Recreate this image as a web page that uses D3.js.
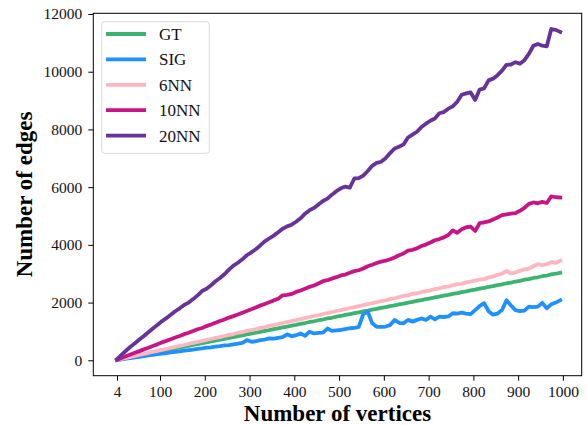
<!DOCTYPE html>
<html>
<head>
<meta charset="utf-8">
<script src="https://cdnjs.cloudflare.com/ajax/libs/d3/7.8.5/d3.min.js"></script>
<style>
  html, body { margin: 0; padding: 0; background: #fff; }
  svg { display: block; }
</style>
</head>
<body>
<div id="chart"></div>
<script>
'use strict';

var vertices = [
  4, 14, 24, 34, 44, 54, 64, 74, 84, 94,
  104, 114, 124, 134, 144, 154, 164, 174, 184, 194,
  204, 214, 224, 234, 244, 254, 264, 274, 284, 294,
  304, 314, 324, 334, 344, 354, 364, 374, 384, 394,
  404, 414, 424, 434, 444, 454, 464, 474, 484, 494,
  504, 514, 524, 534, 544, 554, 564, 574, 584, 594,
  604, 614, 624, 634, 644, 654, 664, 674, 684, 694,
  704, 714, 724, 734, 744, 754, 764, 774, 784, 794,
  804, 814, 824, 834, 844, 854, 864, 874, 884, 894,
  904, 914, 924, 934, 944, 954, 964, 974, 984, 994
];

var gtEdges = [
  10, 42, 74, 101, 134, 165, 193, 226, 255, 288,
  316, 349, 376, 410, 438, 471, 499, 532, 560, 593,
  620, 654, 682, 715, 743, 776, 804, 838, 865, 899,
  925, 960, 986, 1021, 1047, 1082, 1108, 1143, 1169, 1204,
  1230, 1266, 1292, 1327, 1352, 1388, 1413, 1449, 1474, 1510,
  1535, 1571, 1596, 1632, 1657, 1693, 1718, 1754, 1779, 1815,
  1840, 1876, 1901, 1937, 1962, 1998, 2023, 2059, 2084, 2120,
  2145, 2181, 2206, 2242, 2267, 2303, 2328, 2364, 2389, 2425,
  2450, 2486, 2511, 2547, 2572, 2608, 2633, 2669, 2694, 2730,
  2755, 2791, 2816, 2852, 2877, 2913, 2938, 2974, 2999, 3035
];

var sigEdges = [
  5, 30, 55, 78, 100, 122, 145, 168, 190, 210,
  232, 252, 272, 292, 310, 335, 350, 372, 392, 410,
  436, 450, 470, 490, 515, 525, 550, 575, 600, 700,
  640, 660, 700, 720, 760, 750, 780, 800, 900, 830,
  870, 930, 845, 990, 930, 950, 960, 1100, 1020, 1040,
  1050, 1080, 1110, 1120, 1160, 1600, 1690, 1280, 1160, 1160,
  1170, 1220, 1400, 1300, 1280, 1400, 1340, 1400, 1450, 1400,
  1510, 1420, 1510, 1500, 1520, 1630, 1620, 1650, 1620, 1600,
  1740, 1880, 1980, 1700, 1580, 1620, 1740, 2080, 1900, 1740,
  1700, 1720, 1860, 1840, 1860, 1990, 1800, 1940, 2000, 2080
];

var nn6Edges = [
  12, 48, 84, 118, 150, 188, 220, 258, 290, 325,
  360, 392, 430, 462, 498, 530, 568, 600, 635, 668,
  706, 738, 775, 806, 842, 878, 910, 948, 978, 1016,
  1050, 1082, 1122, 1150, 1190, 1220, 1256, 1292, 1322, 1362,
  1390, 1430, 1462, 1494, 1535, 1565, 1600, 1638, 1665, 1708,
  1738, 1772, 1812, 1840, 1880, 1910, 1948, 1985, 2012, 2050,
  2080, 2122, 2150, 2190, 2232, 2250, 2300, 2322, 2362, 2400,
  2422, 2470, 2490, 2540, 2556, 2600, 2640, 2648, 2700, 2730,
  2760, 2800, 2812, 2870, 2900, 2960, 3000, 3100, 3010, 3040,
  3100, 3150, 3180, 3260, 3330, 3300, 3330, 3400, 3380, 3450
];

var nn10Edges = [
  20, 80, 140, 200, 258, 318, 378, 432, 494, 552,
  620, 672, 730, 790, 840, 905, 955, 1012, 1075, 1120,
  1185, 1240, 1300, 1360, 1412, 1480, 1530, 1588, 1650, 1710,
  1770, 1830, 1895, 1950, 2008, 2075, 2130, 2250, 2265, 2300,
  2370, 2420, 2482, 2545, 2590, 2660, 2740, 2775, 2830, 2880,
  2940, 2970, 3030, 3090, 3120, 3180, 3260, 3310, 3370, 3420,
  3450, 3500, 3560, 3640, 3700, 3800, 3830, 3880, 3960, 4010,
  4080, 4160, 4200, 4260, 4340, 4500, 4420, 4540, 4610, 4630,
  4480, 4750, 4780, 4810, 4880, 4950, 5030, 5060, 5080, 5100,
  5180, 5280, 5420, 5470, 5440, 5490, 5450, 5680, 5650, 5640
];

var nn20Edges = [
  40, 190, 330, 470, 590, 720, 840, 970, 1100, 1220,
  1350, 1460, 1580, 1700, 1800, 1920, 2000, 2120, 2250, 2400,
  2480, 2600, 2740, 2850, 2980, 3140, 3280, 3380, 3500, 3640,
  3740, 3850, 3980, 4120, 4220, 4320, 4440, 4560, 4640, 4700,
  4800, 4920, 5080, 5200, 5280, 5400, 5520, 5600, 5740, 5860,
  5960, 6020, 5980, 6300, 6310, 6400, 6560, 6740, 6840, 6880,
  7000, 7180, 7340, 7400, 7480, 7720, 7820, 7920, 8080, 8200,
  8300, 8380, 8560, 8600, 8720, 8800, 8960, 9200, 9250, 9280,
  9020, 9380, 9420, 9700, 9760, 9880, 10040, 10240, 10250, 10330,
  10280, 10400, 10620, 10900, 10960, 10900, 10880, 11480, 11450, 11380
];

var seriesNames = ['GT', 'SIG', '6NN', '10NN', '20NN'];
var seriesColors = ['#3cb371', '#1e90ff', '#ffb6c1', '#c71585', '#663399'];
var seriesValues = [gtEdges, sigEdges, nn6Edges, nn10Edges, nn20Edges];

var xTicks = [4, 100, 200, 300, 400, 500, 600, 700, 800, 900, 1000];
var yTicks = [0, 2000, 4000, 6000, 8000, 10000, 12000];

var width = 587;
var height = 425;
var margin = {top: 13.3, right: 5.3, bottom: 49.3, left: 93.3};
var font = '"Liberation Serif", "Times New Roman", serif';

var svg = d3.select('#chart')
  .append('svg')
  .attr('width', width)
  .attr('height', height);

var x = d3.scaleLinear()
  .domain([-49, 1042])
  .range([margin.left, width - margin.right]);

var y = d3.scaleLinear()
  .domain([-534, 12024])
  .range([height - margin.bottom, margin.top]);

// axes
var xAxis = svg.append('g')
  .attr('transform', 'translate(0,' + (height - margin.bottom) + ')')
  .call(d3.axisBottom(x).tickValues(xTicks).tickFormat(d3.format('d'))
    .tickSize(5).tickPadding(5));

var yAxis = svg.append('g')
  .attr('transform', 'translate(' + margin.left + ',0)')
  .call(d3.axisLeft(y).tickValues(yTicks).tickFormat(d3.format('d'))
    .tickSize(5).tickPadding(6));

[xAxis, yAxis].forEach(function (g) {
  g.attr('font-family', null).attr('font-size', null);
  g.select('.domain').remove();
  g.selectAll('.tick line').attr('stroke', '#000').attr('stroke-width', 1);
  g.selectAll('.tick text')
    .attr('fill', '#111')
    .style('font-family', font)
    .style('font-size', '15.5px');
});

// lines
var line = d3.line()
  .x(function (d) { return x(d[0]); })
  .y(function (d) { return y(d[1]); });

var plot = svg.append('g').attr('class', 'lines');

seriesValues.forEach(function (vals, i) {
  var pts = vertices.map(function (v, j) { return [v, vals[j]]; });
  plot.append('path')
    .datum(pts)
    .attr('fill', 'none')
    .attr('stroke', seriesColors[i])
    .attr('stroke-width', 3.8)
    .attr('stroke-linejoin', 'round')
    .attr('stroke-linecap', 'square')
    .attr('d', line);
});

// frame
svg.append('rect')
  .attr('x', margin.left)
  .attr('y', margin.top)
  .attr('width', width - margin.left - margin.right)
  .attr('height', height - margin.top - margin.bottom)
  .attr('fill', 'none')
  .attr('stroke', '#000')
  .attr('stroke-width', 1);

// legend
var legend = svg.append('g')
  .attr('transform', 'translate(101.7,21.7)');

legend.append('rect')
  .attr('width', 107.6)
  .attr('height', 131.6)
  .attr('rx', 3)
  .attr('fill', '#fff')
  .attr('fill-opacity', 0.8)
  .attr('stroke', '#d9d9d9')
  .attr('stroke-width', 1);

var rows = legend.selectAll('g.row')
  .data(seriesNames)
  .enter().append('g')
  .attr('class', 'row')
  .attr('transform', function (d, i) { return 'translate(0,' + (12.3 + i * 25.4) + ')'; });

rows.append('line')
  .attr('x1', 4.3)
  .attr('x2', 44.3)
  .attr('stroke', function (d, i) { return seriesColors[i]; })
  .attr('stroke-width', 3.8);

rows.append('text')
  .attr('x', 57.3)
  .attr('dy', '0.35em')
  .style('font-family', font)
  .style('font-size', '17px')
  .attr('fill', '#111')
  .text(function (d) { return d; });

// axis titles
svg.append('text')
  .attr('x', (margin.left + width - margin.right) / 2)
  .attr('y', 420.5)
  .attr('text-anchor', 'middle')
  .style('font-family', font)
  .style('font-size', '23px')
  .style('font-weight', 'bold')
  .text('Number of vertices');

svg.append('text')
  .attr('transform', 'translate(32,' + ((margin.top + height - margin.bottom) / 2) + ') rotate(-90)')
  .attr('text-anchor', 'middle')
  .style('font-family', font)
  .style('font-size', '23px')
  .style('font-weight', 'bold')
  .text('Number of edges');
</script>
</body>
</html>
